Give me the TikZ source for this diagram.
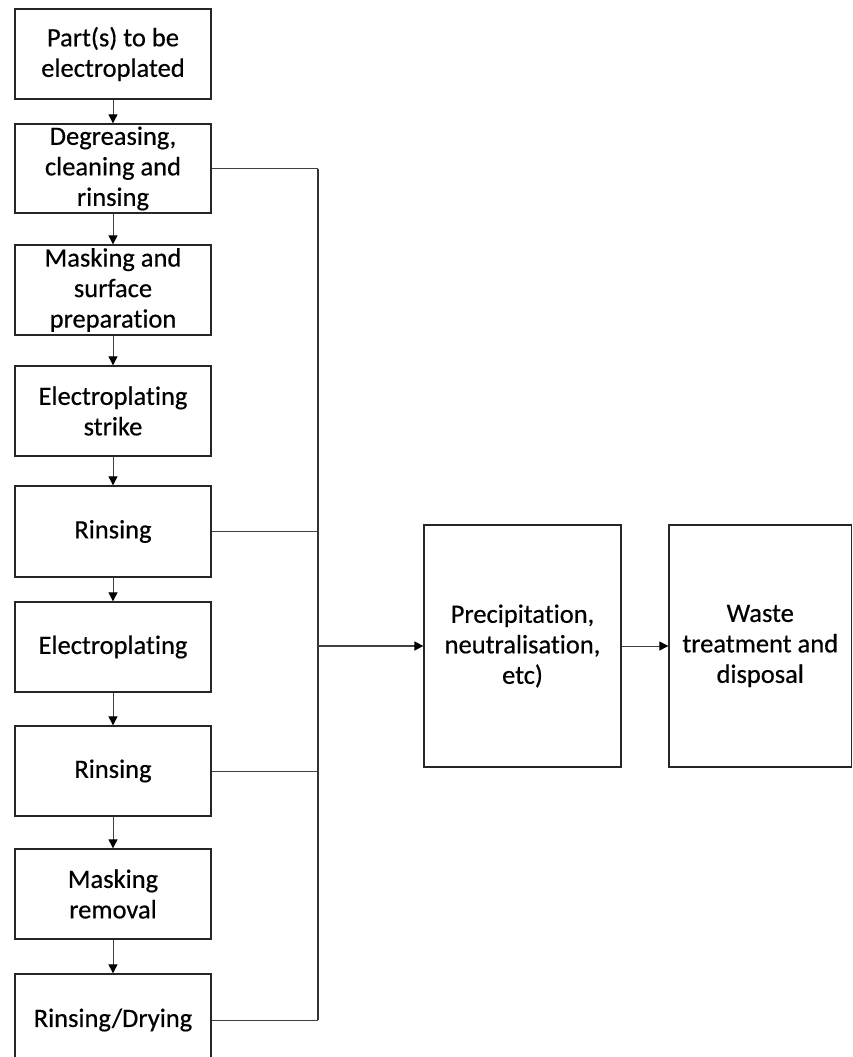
\documentclass[tikz,border=0pt]{standalone}
\usepackage{fontspec}
\setmainfont{Carlito}[Ligatures=NoCommon,FakeBold=0.5]
\usetikzlibrary{arrows.meta}
\begin{document}
\begin{tikzpicture}[x=1pt,y=-1pt,
  stepbox/.style={draw=black!85,line width=1.3pt,align=center,inner sep=0pt,
    font=\fontsize{26.5}{30.5}\selectfont,minimum width=196pt,minimum height=90pt},
  bigbox/.style={stepbox,minimum height=242pt},
  flow/.style={draw=black!75,line width=0.9pt,-{Triangle[length=9pt,width=9pt,fill=black,color=black]}},
  feed/.style={draw=black!75,line width=0.9pt},
  bus/.style={draw=black!80,line width=1.6pt}]
\useasboundingbox (0,0) rectangle (852,1057);

% main process column
\node[stepbox] (b1) at (113,54)    {Part(s) to be\\electroplated};
\node[stepbox,minimum height=89pt] (b2) at (113,168.5) {Degreasing,\\cleaning and\\rinsing};
\node[stepbox] (b3) at (113,290)   {Masking and\\surface\\preparation};
\node[stepbox] (b4) at (113,411)   {Electroplating\\strike};
\node[stepbox,minimum height=91pt] (b5) at (113,531.5) {Rinsing};
\node[stepbox] (b6) at (113,647)   {Electroplating};
\node[stepbox] (b7) at (113,771)   {Rinsing};
\node[stepbox] (b8) at (113,894)   {Masking\\removal};
\node[stepbox,minimum height=92pt] (b9) at (113,1020) {Rinsing/Drying};

% treatment stages
\node[bigbox,minimum width=197pt] (t1) at (522.5,646) {Precipitation,\\neutralisation,\\etc)};
\node[bigbox,minimum width=182.5pt] (t2) at (760.25,646) {Waste\\treatment and\\disposal};

% arrows between process steps
\foreach \a/\b in {b1/b2,b2/b3,b3/b4,b4/b5,b5/b6,b6/b7,b7/b8,b8/b9}
  \draw[flow] (\a.south) -- (\b.north);

% collecting line for the rinse effluents
\coordinate (btop) at (318,168.5);
\coordinate (bbot) at (318,1020);
\coordinate (bmid) at (318,646);
\draw[bus] (btop) -- (bbot);
\foreach \s in {b2,b5,b7,b9}
  \draw[feed] (\s.east) -- (\s.east -| btop);

\draw[flow,line width=1.6pt] (bmid) -- (t1.west);
\draw[flow] (t1.east) -- (t2.west);
\end{tikzpicture}
\end{document}
